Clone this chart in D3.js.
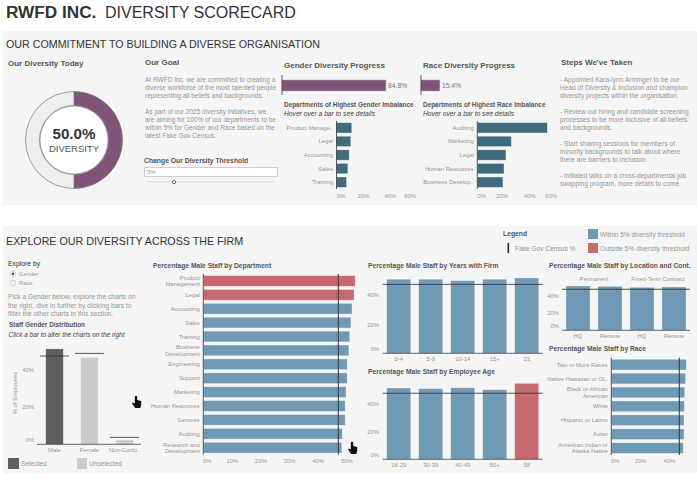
<!DOCTYPE html>
<html><head><meta charset="utf-8">
<script src="https://cdn.jsdelivr.net/npm/d3@7/dist/d3.min.js"></script>
<style>
html,body{margin:0;padding:0;background:#fff;overflow:hidden}
svg{display:block;font-family:"Liberation Sans",Arial,sans-serif}
</style></head><body><svg id="c" width="697" height="483"></svg>
<script>
const genderImbDepts=["Product Manage..","Legal","Accounting","Sales","Training"];
const genderImbValues=[12.5,11.7,10.4,9.3,8.2];
const raceImbDepts=["Auditing","Marketing","Legal","Human Resources","Business Develop.."];
const raceImbValues=[57.4,27.9,23.5,21.9,21];
const deptNames=["Product\nManagement","Legal","Accounting","Sales","Training","Business\nDevelopment","Engineering","Support","Marketing","Human Resources","Services","Auditing","Research and\nDevelopment"];
const deptValues=[53.1,52.7,52,51.6,51.2,50.9,50.3,50.3,49.9,49.6,49.6,48.6,48.4];
const yearsNames=["0-4","5-9","10-14","15+","23"];
const yearsValues=[50.7,50.7,49.7,50.7,51.6];
const ageNames=["18-29","30-39","40-49","50+","58"];
const ageValues=[50.9,50.4,51.1,49.7,54.2];
const locNames=["HQ","Remote","HQ ","Remote "];
const locValues=[50.9,50.5,49.4,49.8];
const raceNames=["Two or More Races","Native Hawaiian or Ot..","Black or African\nAmerican","White","Hispanic or Latino","Asian","American Indian or\nAlaska Native"];
const raceValues=[52.1,51.6,51,50.7,50.5,50.5,50];
const genderNames=["Male","Female","Non-Confo.."];
const genderValues=[51,46.5,2.3];
const genderCensus=[47.2,48.6,3.7];
const census=47.2, threshold=5;
const goalText=["At RWFD Inc. we are committed to creating a","diverse workforce of the most talented people","representing all beliefs and backgrounds.","","As part of our 2025 diversity initiatives, we","are aiming for 100% of our departments to be","within 5% for Gender and Race based on the","latest Fake Gov Census."];
const stepsText=["- Appointed Kara-lynn Arminger to be our","Head of Diversity & Inclusion and champion","diversity projects within the organisation.","","- Review our hiring and candidate screening","processes to be more inclusive of all beliefs","and backgrounds.","","- Start sharing sessions for members of","minority backgrounds to talk about where","there are barriers to inclusion.","","- Initiated talks on a cross-departmental job","swapping program, more details to come."];
const exploreText=["Pick a Gender below, explore the charts on","the right, dive in further by clicking bars to","filter the other charts in this section."];

const BLUE="#7099b5",RED="#c76a70",TEAL="#3f6b7c",PURPLE="#7f5478",DARK="#333",GREY="#969696";
const svg=d3.select("#c");
function T(x,y,s,o={}){return svg.append("text").attr("x",x).attr("y",y).attr("dy","0.35em").text(s)
  .attr("font-size",o.size||7).attr("fill",o.fill||GREY).attr("font-weight",o.w||"normal")
  .attr("font-style",o.it?"italic":"normal").attr("text-anchor",o.a||"start");}
function H(x,y,s,size){return T(x,y,s,{size:size||7.4,fill:"#555",w:"bold"});}
function lines(x,y,arr,lh,o){arr.forEach((l,i)=>{if(l)T(x,y+i*lh,l,o);});}
function colorOf(v){return Math.abs(v-census)<=threshold?BLUE:RED;}

svg.append("rect").attr("x",3).attr("y",31).attr("width",694).attr("height",174).attr("fill","#f5f5f5");
svg.append("rect").attr("x",3).attr("y",226).attr("width",694).attr("height",248).attr("fill","#f5f5f5");

// headers
const tt=svg.append("text").attr("x",6).attr("y",18).attr("font-size",16).attr("fill","#333");
tt.append("tspan").attr("font-weight","bold").attr("font-size",17.2).text("RWFD INC.");
tt.append("tspan").attr("x",105).text("DIVERSITY SCORECARD");
T(6,44,"OUR COMMITMENT TO BUILDING A DIVERSE ORGANISATION",{size:10.7,fill:"#333"});
T(6,241,"EXPLORE OUR DIVERSITY ACROSS THE FIRM",{size:10.7,fill:"#333"});

// donut
H(8,63,"Our Diversity Today",8);
const pie=d3.pie().sort(null)([50,50]);
const arc=d3.arc().innerRadius(34.5).outerRadius(48.5);
const dg=svg.append("g").attr("transform","translate(74,140)");
dg.selectAll("path").data(pie).join("path").attr("d",arc)
  .attr("fill",(d,i)=>i==0?PURPLE:"#eeeeee").attr("stroke","#777").attr("stroke-width",.7);
dg.append("circle").attr("r",34).attr("fill","#fff").attr("stroke","#777").attr("stroke-width",.6);
T(74,133.5,"50.0%",{size:15.2,fill:"#333",w:"bold",a:"middle"});
T(74,149,"DIVERSITY",{size:9.5,fill:"#555",a:"middle"});

// goal
H(145,62,"Our Goal",8);
lines(145,79.5,goalText,8,{size:6.5});
H(144,161,"Change Our Diversity Threshold",6.8);
svg.append("rect").attr("x",144.5).attr("y",167.5).attr("width",133).attr("height",9).attr("fill","#fff").attr("stroke","#bbb").attr("stroke-width",.7);
T(147,172,threshold+"%",{size:6});
svg.append("rect").attr("x",147).attr("y",181).attr("width",127).attr("height",1.5).attr("fill","#e0e0e0");
svg.append("circle").attr("cx",174).attr("cy",182).attr("r",1.7).attr("fill","#fff").attr("stroke","#444").attr("stroke-width",.7);

// progress
function progress(x0,label,labelY,v){
  H(x0+2,65,label,8);
  const x=d3.scaleLinear().domain([0,100]).range([x0,x0+122.6]);
  svg.append("rect").attr("x",x0).attr("y",80).attr("width",x(v)-x0).attr("height",11).attr("fill",PURPLE).attr("stroke","#b9a6b6").attr("stroke-width",.5);
  svg.append("line").attr("x1",x0).attr("x2",x0).attr("y1",75).attr("y2",95).attr("stroke",DARK).attr("stroke-width",.8);
  T(x(v)+2,85.5,v.toFixed(1)+"%",{size:6.8,fill:"#777"});
}
progress(282,"Gender Diversity Progress",0,84.8);
progress(421,"Race Diversity Progress",0,15.4);
H(284,105,"Departments of Highest Gender Imbalance",6.42);
T(284,113.5,"Hover over a bar to see details",{size:6.7,fill:"#444",it:true});
H(423,105,"Departments of Highest Race Imbalance",6.42);
T(423,113.5,"Hover over a bar to see details",{size:6.7,fill:"#444",it:true});

function hBar(c){
  const x=d3.scaleLinear().domain([0,c.ticks[c.ticks.length-1]]).range([c.x0,c.x0+c.ticks[c.ticks.length-1]*c.k]);
  const y=d3.scaleBand().domain(c.names).range([c.top,c.bot]).paddingInner(c.pad).paddingOuter(c.pad/2);
  svg.append("g").selectAll("rect").data(c.values).join("rect")
    .attr("x",c.x0).attr("y",(d,i)=>y(c.names[i])).attr("width",d=>x(d)-c.x0).attr("height",y.bandwidth())
    .attr("fill",d=>c.color||colorOf(d)).attr("stroke","#fff").attr("stroke-opacity",.45).attr("stroke-width",.7);
  const ax=svg.append("g").attr("transform",`translate(0,${c.tickY})`).call(d3.axisBottom(x).tickValues(c.ticks).tickSize(0).tickPadding(0).tickFormat(d=>d+"%"));
  ax.select(".domain").remove();
  ax.selectAll("text").attr("font-family",null).attr("font-size",5.9).attr("fill",GREY).attr("dy","0.35em").attr("y",0)
    .attr("dx",d=>(c.nudge&&c.nudge[d])||0);
  svg.append("line").attr("x1",c.x0).attr("x2",c.x0).attr("y1",c.top).attr("y2",c.bot).attr("stroke",DARK).attr("stroke-width",.8);
  c.names.forEach(n=>{
    const p=n.split("\n"),cy=y(n)+y.bandwidth()/2;
    p.forEach((s,i)=>T(c.x0-3.5,cy+(i-(p.length-1)/2)*6.4,s,{size:5.9,fill:GREY,a:"end"}));
  });
  if(c.ref!==undefined)svg.append("line").attr("x1",x(c.ref)).attr("x2",x(c.ref)).attr("y1",c.top).attr("y2",c.bot).attr("stroke",DARK).attr("stroke-width",1);
}
function vBar(c){
  const x=d3.scaleBand().domain(c.names).range([c.x0,c.x1]).paddingInner(c.pad).paddingOuter(c.pad/2);
  const y=d3.scaleLinear().domain([0,40]).range([c.base,c.base-40*c.k]);
  svg.append("g").selectAll("rect").data(c.values).join("rect")
    .attr("x",(d,i)=>x(c.names[i])).attr("y",d=>y(d)).attr("width",x.bandwidth()).attr("height",d=>c.base-y(d))
    .attr("fill",d=>colorOf(d)).attr("stroke","#fff").attr("stroke-opacity",.4).attr("stroke-width",.7);
  const ay=svg.append("g").attr("transform",`translate(${c.lx},0)`).call(d3.axisLeft(y).tickValues([0,20,40]).tickSize(0).tickPadding(0).tickFormat(d=>d+"%"));
  ay.select(".domain").remove();
  ay.selectAll("text").attr("font-family",null).attr("font-size",5.9).attr("fill",GREY).attr("x",0).attr("dy","0.35em").attr("transform",d=>d==0?`translate(0,${-c.zero})`:null);
  const ax=svg.append("g").attr("transform",`translate(0,${c.base})`).call(d3.axisBottom(x).tickSize(0).tickPadding(0));
  ax.select(".domain").remove();
  ax.selectAll("text").attr("font-family",null).attr("font-size",5.9).attr("fill",GREY).attr("y",c.ly).attr("dy","0.35em");
  svg.append("line").attr("x1",c.x0).attr("x2",c.x1).attr("y1",c.base).attr("y2",c.base).attr("stroke","#444").attr("stroke-width",.8);
  svg.append("line").attr("x1",c.x0).attr("x2",c.x1).attr("y1",y(census)).attr("y2",y(census)).attr("stroke","#333").attr("stroke-opacity",.85).attr("stroke-width",1);
}

hBar({names:genderImbDepts,values:genderImbValues,color:TEAL,x0:336.5,k:1.22,top:121,bot:189,pad:.24,ticks:[0,20,40,60],tickY:196,nudge:{0:4,20:2,40:4.5}});
hBar({names:raceImbDepts,values:raceImbValues,color:TEAL,x0:477.3,k:1.22,top:121,bot:189,pad:.24,ticks:[0,20,40,60],tickY:196,nudge:{0:4,40:3}});

H(561,62,"Steps We've Taken",8);
lines(560,79.3,stepsText,8,{size:6.6});

// legend
H(503,234,"Legend",6.8);
svg.append("rect").attr("x",507.5).attr("y",243).attr("width",1.6).attr("height",10).attr("fill","#222");
T(515,248.5,"Fake Gov Census %",{size:6.6});
svg.append("rect").attr("x",588).attr("y",229).attr("width",10).attr("height",10).attr("fill",BLUE);
T(600,234.5,"Within 5% diversity threshold",{size:6.6});
svg.append("rect").attr("x",588).attr("y",243).attr("width",10).attr("height",10).attr("fill",RED);
T(600,248.5,"Outside 5% diversity threshold",{size:6.6});

// explore
T(8,264,"Explore by",{size:6.8,fill:"#333"});
[["Gender",273.7,true],["Race",283,false]].forEach(([s,y,on])=>{
  svg.append("circle").attr("cx",13).attr("cy",y).attr("r",2.7).attr("fill","#fff").attr("stroke","#aaa").attr("stroke-width",.6);
  if(on)svg.append("circle").attr("cx",13).attr("cy",y).attr("r",1.2).attr("fill","#444");
  T(19,y,s,{size:5.8});
});
lines(8,297,exploreText,8.4,{size:6.7});
H(9,325,"Staff Gender Distribution",6.4);
T(8.5,335,"Click a bar to alter the charts on the right",{size:6.45,fill:"#444",it:true});

// gender distribution
{
  const base=444.3,k=1.87;
  const x=d3.scaleBand().domain(genderNames).range([37,142]).paddingInner(.5).paddingOuter(.25);
  const y=d3.scaleLinear().domain([0,40]).range([base,base-40*k]);
  svg.append("g").selectAll("rect").data(genderValues).join("rect")
    .attr("x",(d,i)=>x(genderNames[i])).attr("y",d=>y(d)).attr("width",x.bandwidth()).attr("height",d=>base-y(d))
    .attr("fill",(d,i)=>i==0?"#5e5e5e":"#cbcbcb").attr("stroke","#fff").attr("stroke-opacity",.4).attr("stroke-width",.6);
  const ay=svg.append("g").attr("transform","translate(32,0)").call(d3.axisLeft(y).tickValues([0,20,40]).tickSize(0).tickPadding(0).tickFormat(d=>d+"%"));
  ay.select(".domain").remove();
  ay.selectAll("text").attr("font-family",null).attr("font-size",5.9).attr("fill",GREY).attr("x",2).attr("dy","0.35em").attr("transform",d=>d==0?"translate(0,-4.5)":null);
  const ax=svg.append("g").attr("transform",`translate(0,${base})`).call(d3.axisBottom(x).tickSize(0).tickPadding(0));
  ax.select(".domain").remove();
  ax.selectAll("text").attr("font-family",null).attr("font-size",5.9).attr("fill",GREY).attr("y",5.7).attr("dy","0.35em");
  svg.append("line").attr("x1",37).attr("x2",141).attr("y1",base).attr("y2",base).attr("stroke","#444").attr("stroke-width",.8);
  genderCensus.forEach((v,i)=>{
    const c=x(genderNames[i])+x.bandwidth()/2;
    svg.append("line").attr("x1",c-14.5).attr("x2",c+14.5).attr("y1",y(v)).attr("y2",y(v)).attr("stroke","#333").attr("stroke-opacity",.8).attr("stroke-width",1);
  });
  svg.append("text").attr("transform","translate(15,393) rotate(-90)").attr("text-anchor","middle").attr("dy","0.35em").attr("font-size",5.9).attr("fill",GREY).text("% of Employees");
}
svg.append("rect").attr("x",8).attr("y",458).attr("width",11).attr("height",11).attr("fill","#5e5e5e");
T(21,463.5,"Selected",{size:6.6});
svg.append("rect").attr("x",77).attr("y",458).attr("width",10).attr("height",11).attr("fill","#cbcbcb");
T(89,463.5,"Unselected",{size:6.6});

// filter charts
H(153,265.3,"Percentage Male Staff by Department",6.7);
hBar({names:deptNames,values:deptValues,x0:203.3,k:2.86,top:274,bot:454.6,pad:.23,ticks:[0,10,20,30,40,50],tickY:461,nudge:{0:3.5}});
svg.append("line").attr("x1",338.3).attr("x2",338.3).attr("y1",274).attr("y2",454.6).attr("stroke",DARK).attr("stroke-width",1);

H(368,265.3,"Percentage Male Staff by Years with Firm",6.7);
vBar({names:yearsNames,values:yearsValues,x0:382.7,x1:542.7,pad:.25,base:353.3,k:1.46,lx:379,zero:4.5,ly:5.7});
H(368,371.7,"Percentage Male Staff by Employee Age",6.7);
vBar({names:ageNames,values:ageValues,x0:382.7,x1:542.7,pad:.25,base:459.3,k:1.4,lx:379,zero:4.5,ly:5.5});

H(549,265.3,"Percentage Male Staff by Location and Cont.",6.7);
T(594,279,"Permanent",{size:5.9,a:"middle"});
T(658,279,"Fixed-Term Contract",{size:5.9,a:"middle"});
vBar({names:locNames,values:locValues,x0:562,x1:690,pad:.25,base:330.3,k:.87,lx:559,zero:4.5,ly:5.5});

H(549,349,"Percentage Male Staff by Race",6.7);
hBar({names:raceNames,values:raceValues,x0:611.3,k:1.44,top:357.7,bot:455,pad:.23,ticks:[0,20,40],tickY:461,nudge:{0:3.5,40:0}});
svg.append("line").attr("x1",679.3).attr("x2",679.3).attr("y1",357.7).attr("y2",455).attr("stroke",DARK).attr("stroke-width",1);

// hand cursors
function hand(x,y){
  const g=svg.append("g").attr("transform",`translate(${x},${y})`).attr("fill","#111");
  g.append("path").attr("d","M-2.2,-5 a1.2,1.2 0 0 1 2.4,0 v3 l4,1 v4 l-1,3 h-5 l-3.2,-4.5 l1,-1 l1.8,1 z");
  return g;
}
hand(137,402);hand(353,448);
</script></body></html>
